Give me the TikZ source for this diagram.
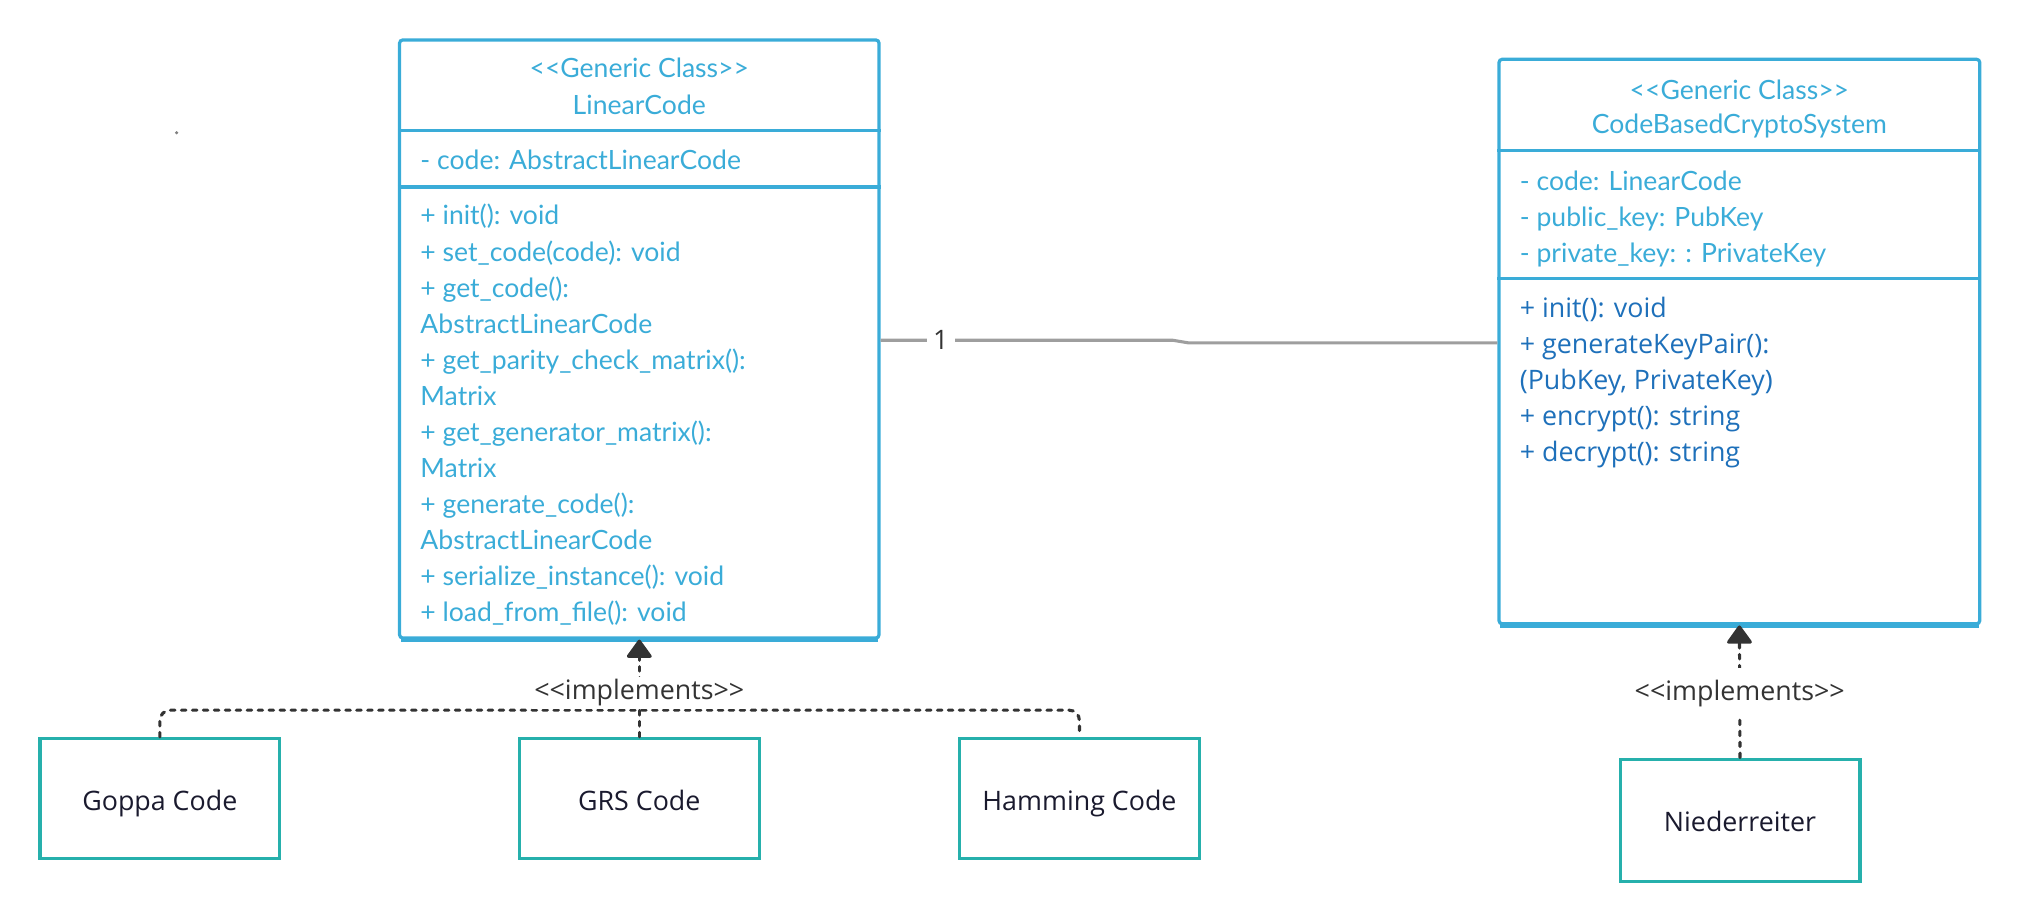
\documentclass[tikz,border=0pt]{standalone}
\usepackage{fontspec}
\setmainfont{Lato}
\newfontfamily\latofam{Lato}
\newfontfamily\opensansfam{Open Sans}
\newcommand\latotext{\latofam\fontsize{20.6pt}{28pt}\selectfont}
\newcommand\opentext{\opensansfam\fontsize{20.8pt}{28pt}\selectfont}
\usetikzlibrary{arrows.meta}

\definecolor{classblue}{RGB}{58,172,216}
\definecolor{methodblue}{RGB}{30,112,186}
\definecolor{implteal}{RGB}{38,176,172}
\definecolor{linkgrey}{RGB}{158,158,158}
\definecolor{darkline}{RGB}{51,51,51}
\definecolor{labelink}{RGB}{26,26,46}

\begin{document}
\begin{tikzpicture}[x=1pt,y=-1pt]

	\tikzstyle class box=[draw=classblue, line width=2.5pt, rounded corners=2.5pt, inner sep=0pt];
	\tikzstyle class divider=[draw=classblue, line width=2.5pt];
	\tikzstyle head text=[text=classblue, font=\latotext, inner sep=0pt];
	\tikzstyle attr text=[text=classblue, font=\latotext, anchor=west, inner sep=0pt, text height=14.5pt, text depth=4.5pt];
	\tikzstyle op text=[text=methodblue, font=\opentext, anchor=west, inner sep=0pt, text height=15pt, text depth=5pt];
	\tikzstyle impl box=[draw=implteal, line width=2.5pt, minimum width=186pt, minimum height=93pt, font=\opentext, text=labelink, text height=21pt, text depth=3pt];
	\tikzstyle assoc line=[draw=linkgrey, line width=2.4pt];
	\tikzstyle realize line=[draw=darkline, line width=2.4pt, line cap=round, dash pattern=on 3.5pt off 5pt];
	\tikzstyle realize tip=[-{Triangle[length=15pt, width=21pt, round]}];
	\tikzstyle realize label=[fill=white, text=darkline, font=\opentext, inner sep=2pt];

	\useasboundingbox (0,0) rectangle (1568,714);
	\fill[gray] (137,103) circle (1.3);

	% generic class LinearCode
	\node[class box, minimum width=372pt, minimum height=464pt] (lin) at (496,263) {};
	\draw[class divider] (lin.west |- 0,101) -- (lin.east |- 0,101);
	\draw[class divider] (lin.west |- 0,145) -- (lin.east |- 0,145);
	\draw[class divider, line width=3.5pt] (lin.south west) ++(2,0) -- ([xshift=-2pt]lin.south east);
	\node[head text] (linstereo) at (496,53) {<<Generic Class>>};
	\node[head text] (linname) at (496,81) {LinearCode};
	\node[attr text] (linattr) at (326,126.5) {- code: AbstractLinearCode};
		\foreach \txt [count=\i] in {+ init(): void, + set\_code(code): void, + get\_code():, AbstractLinearCode,
			+ get\_parity\_check\_matrix():, Matrix, + get\_generator\_matrix():, Matrix, + generate\_code():,
			AbstractLinearCode, + serialize\_instance(): void, + load\_from\_file(): void}
			\node[attr text] (linop\i) at (326,{141.5+28*\i}) {\txt};

	% generic class CodeBasedCryptoSystem
	\node[class box, minimum width=373pt, minimum height=438pt] (cbcs) at (1349.5,265) {};
	\draw[class divider] (cbcs.west |- 0,117) -- (cbcs.east |- 0,117);
	\draw[class divider] (cbcs.west |- 0,216) -- (cbcs.east |- 0,216);
	\draw[class divider, line width=3.5pt] (cbcs.south west) ++(2,0) -- ([xshift=-2pt]cbcs.south east);
	\node[head text] (cbcsstereo) at (1349.5,69.5) {<<Generic Class>>};
	\node[head text] (cbcsname) at (1349.5,97.5) {CodeBasedCryptoSystem};
		\foreach \txt [count=\i] in {- code: LinearCode, - public\_key: PubKey, - private\_key: : PrivateKey}
			\node[attr text] (cbcsattr\i) at (1179,{114.5+28*\i}) {\txt};
		\foreach \txt [count=\i] in {+ init(): void, + generateKeyPair():, {(PubKey, PrivateKey)},
			+ encrypt(): string, + decrypt(): string}
			\node[op text] (cbcsop\i) at (1179,{213+28*\i}) {\txt};

	% implementations
	\node[impl box] (goppa) at (124,619.5) {Goppa Code};
	\node[impl box] (grs) at (496,619.5) {GRS Code};
	\node[impl box] (hamming) at (837.5,619.5) {Hamming Code};
	\node[impl box, minimum height=95pt] (nied) at (1350,636.5) {Niederreiter};

	% association
	\coordinate (jogA) at (910,264);
	\coordinate (jogB) at (922,266);
	\draw[assoc line] (lin.east |- 0,264) -- node[pos=.206, fill=white, text=darkline, font=\opentext, inner xsep=5pt] (mult) {1}
		(jogA) -- (jogB) -- (cbcs.west |- 0,266);

	% realizations
	\coordinate (bus) at (496,551);
	\draw[realize line, rounded corners=8pt] (goppa.north) -- (goppa.north |- bus) -- (hamming.north |- bus) -- (hamming.north);
	\draw[realize line, realize tip] (grs.north) -- (bus) -- node[realize label, pos=.25] (implA) {<<implements>>} (lin.south);
	\draw[realize line, realize tip] (nied.north) -- node[realize label, pos=.486, inner ysep=9pt] (implB) {<<implements>>} (cbcs.south);

\end{tikzpicture}
\end{document}
